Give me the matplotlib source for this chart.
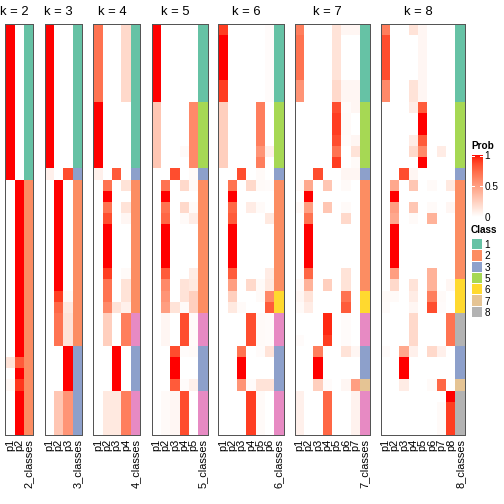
import numpy as np
import matplotlib
matplotlib.use("Agg")
import matplotlib.pyplot as plt
from matplotlib.colors import ListedColormap, BoundaryNorm, Normalize
from matplotlib.cm import ScalarMappable

plt.rcParams['font.family'] = ['Liberation Sans', 'DejaVu Sans']

# membership probabilities, run-length coded: (number of rows, [p1..pk])
prob_k2 = [(14, [1, 0]), (16, [0, 1]), (1, [0.15, 0.8]), (1, [0, 1]),
           (1, [0.04, 0.92]), (4, [0, 1])]
prob_k3 = [(13, [1, 0, 0]), (1, [0.08, 0, 0.85]), (10, [0, 1, 0]),
           (1, [0, 0.9, 0.03]), (1, [0, 0.75, 0.12]), (3, [0, 0.7, 0.15]),
           (4, [0, 0, 1]), (4, [0, 0.3, 0.55])]
prob_k4 = [(7, [0.7, 0, 0, 0.2]), (6, [1, 0, 0, 0]), (1, [0.08, 0, 0.8, 0]),
           (1, [0, 0.7, 0, 0.15]), (1, [0, 1, 0, 0]), (1, [0, 0.7, 0, 0.15]),
           (1, [0, 0.85, 0, 0.05]), (4, [0, 1, 0, 0]), (1, [0, 0.9, 0, 0.03]),
           (1, [0, 0.7, 0, 0.15]), (1, [0, 0.7, 0, 0.15]), (1, [0, 0.6, 0.15, 0.08]),
           (3, [0, 0.25, 0, 0.65]), (4, [0, 0, 1, 0]), (4, [0, 0.12, 0.12, 0.65])]
prob_k5 = [(7, [1, 0, 0, 0, 0]), (4, [0.3, 0, 0, 0, 0.6]), (1, [0.3, 0, 0, 0.03, 0.6]),
           (1, [0.3, 0, 0, 0, 0.6]), (1, [0, 0, 0.85, 0, 0.03]),
           (1, [0, 0.7, 0, 0.2, 0.03]), (1, [0, 1, 0, 0, 0]), (1, [0, 0.7, 0, 0.2, 0.03]),
           (1, [0, 0.75, 0, 0.03, 0.1]), (4, [0, 1, 0, 0, 0]), (1, [0, 0.8, 0, 0, 0.1]),
           (1, [0, 0.6, 0, 0.15, 0.12]), (1, [0, 0.55, 0, 0.15, 0.25]),
           (1, [0, 0.5, 0.15, 0.03, 0.25]), (3, [0, 0.05, 0, 0.85, 0.02]),
           (1, [0, 0, 0.85, 0.02, 0.03]), (2, [0, 0, 1, 0, 0]), (1, [0, 0, 0.8, 0.02, 0.08]),
           (4, [0, 0.03, 0.05, 0.85, 0])]
prob_k6 = [(1, [0.9, 0, 0, 0, 0, 0.02]), (4, [1, 0, 0, 0, 0, 0.02]),
           (2, [0.9, 0, 0, 0, 0, 0.02]), (4, [0.25, 0, 0, 0, 0.65, 0]),
           (1, [0.25, 0, 0, 0, 0.55, 0.08]), (1, [0.25, 0, 0, 0, 0.65, 0]),
           (1, [0, 0, 0.85, 0, 0.03, 0]), (1, [0, 0.7, 0, 0.2, 0.03, 0.02]),
           (1, [0, 1, 0, 0, 0, 0]), (1, [0, 0.75, 0, 0.1, 0.03, 0]),
           (1, [0, 0.8, 0, 0, 0, 0.12]), (4, [0, 1, 0, 0, 0, 0]),
           (1, [0, 0.8, 0, 0, 0, 0.1]), (1, [0, 0.5, 0, 0.2, 0.03, 0.12]),
           (1, [0, 0.25, 0, 0, 0.03, 0.6]), (1, [0, 0.12, 0.03, 0, 0, 0.8]),
           (3, [0, 0, 0, 0.85, 0.03, 0.02]), (1, [0, 0, 0.7, 0, 0.02, 0.15]),
           (2, [0, 0, 1, 0, 0, 0]), (1, [0, 0, 0.55, 0.02, 0.15, 0.15]),
           (4, [0, 0, 0, 0.9, 0.03, 0])]
prob_k7 = [(1, [0.65, 0, 0, 0, 0.15, 0.05, 0.05]), (4, [0.7, 0, 0, 0, 0.15, 0, 0]),
           (2, [0.55, 0, 0, 0, 0.2, 0.05, 0.05]), (1, [0, 0, 0, 0, 0.85, 0.02, 0.05]),
           (1, [0, 0, 0, 0, 0.9, 0.03, 0]), (1, [0, 0, 0, 0, 0.9, 0.03, 0]),
           (1, [0, 0, 0, 0, 0.85, 0.02, 0.05]), (1, [0, 0, 0, 0, 0.7, 0, 0.15]),
           (1, [0, 0, 0, 0, 0.9, 0, 0.03]), (1, [0, 0, 0.85, 0, 0, 0.05, 0.05]),
           (1, [0.03, 0.45, 0, 0.3, 0, 0.03, 0]), (1, [0, 1, 0, 0, 0, 0, 0]),
           (1, [0.03, 0.5, 0, 0.3, 0, 0.03, 0]), (1, [0, 0.7, 0, 0, 0, 0.2, 0]),
           (4, [0, 1, 0, 0, 0, 0, 0]), (1, [0, 0.75, 0, 0, 0, 0.15, 0]),
           (1, [0.03, 0.4, 0, 0.25, 0, 0.15, 0]), (1, [0.05, 0.15, 0, 0, 0, 0.7, 0]),
           (1, [0.03, 0.1, 0, 0, 0, 0.8, 0]), (2, [0, 0, 0, 0.95, 0, 0.02, 0]),
           (1, [0.02, 0, 0, 0.9, 0, 0.02, 0]), (1, [0, 0, 0.65, 0, 0, 0.15, 0.05]),
           (2, [0, 0, 1, 0, 0, 0, 0]), (1, [0, 0, 0.25, 0.02, 0, 0.05, 0.5]),
           (4, [0.08, 0, 0, 0.75, 0, 0, 0.07])]
prob_k8 = [(1, [0.65, 0, 0, 0.15, 0.05, 0, 0, 0]), (4, [0.85, 0, 0, 0, 0.05, 0, 0, 0]),
           (2, [0.6, 0, 0, 0.15, 0.05, 0, 0, 0]), (1, [0, 0, 0, 0.1, 0.8, 0, 0, 0]),
           (2, [0, 0, 0, 0, 1, 0, 0, 0]), (1, [0, 0, 0, 0.1, 0.8, 0, 0, 0]),
           (1, [0, 0, 0, 0.2, 0.6, 0, 0.1, 0]), (1, [0, 0, 0, 0, 1, 0, 0, 0]),
           (1, [0, 0, 0.85, 0.05, 0, 0, 0, 0]), (1, [0, 0.45, 0, 0.3, 0, 0.03, 0, 0.12]),
           (1, [0, 1, 0, 0, 0, 0, 0, 0]), (1, [0, 0.5, 0, 0.3, 0, 0.03, 0, 0.05]),
           (1, [0, 0.45, 0, 0.03, 0, 0.4, 0, 0]), (4, [0, 1, 0, 0, 0, 0, 0, 0]),
           (1, [0, 0.5, 0, 0, 0, 0.4, 0, 0]), (1, [0, 0.2, 0, 0.15, 0, 0.4, 0, 0.05]),
           (1, [0.03, 0.03, 0, 0.1, 0, 0.65, 0.03, 0]), (1, [0.02, 0, 0, 0.05, 0, 0.85, 0.02, 0]),
           (3, [0, 0, 0, 0.2, 0, 0, 0, 0.7]), (1, [0.02, 0, 0.45, 0.08, 0, 0.2, 0.08, 0]),
           (2, [0, 0, 1, 0, 0, 0, 0, 0]), (1, [0, 0, 0.1, 0, 0, 0.03, 0.75, 0]),
           (1, [0, 0, 0, 0, 0, 0, 0, 1]), (3, [0, 0, 0, 0, 0, 0, 0.03, 0.9])]

# class labels, run-length coded: (number of rows, class)
class_k2 = [(14, 1), (23, 2)]
class_k3 = [(13, 1), (1, 3), (15, 2), (8, 3)]
class_k4 = [(13, 1), (1, 3), (12, 2), (3, 4), (4, 3), (4, 4)]
class_k5 = [(7, 1), (6, 5), (1, 3), (12, 2), (3, 4), (4, 3), (4, 4)]
class_k6 = [(7, 1), (6, 5), (1, 3), (10, 2), (2, 6), (3, 4), (4, 3), (4, 4)]
class_k7 = [(7, 1), (6, 5), (1, 3), (10, 2), (2, 6), (3, 4), (3, 3), (1, 7), (4, 4)]
class_k8 = [(7, 1), (6, 5), (1, 3), (9, 2), (3, 6), (3, 8), (3, 3), (1, 7), (4, 8)]

legend_classes = [1, 2, 3, 5, 6, 7, 8]
class_colors = ['#66C2A5', '#FC8D62', '#8DA0CB', '#E78AC3',
                '#A6D854', '#FFD92F', '#E5C494', '#B3B3B3']

probs = {2: prob_k2, 3: prob_k3, 4: prob_k4, 5: prob_k5, 6: prob_k6, 7: prob_k7, 8: prob_k8}
classes = {2: class_k2, 3: class_k3, 4: class_k4, 5: class_k5, 6: class_k6, 7: class_k7, 8: class_k8}


def expand(runs):
    rows = []
    for n, v in runs:
        rows += [v] * n
    return np.array(rows, dtype=float)


def white_red_lab(n=256):
    # white -> red interpolated in CIE Lab, like colorRamp2
    t = np.linspace(0, 1, n)
    L = 100 + t * (53.24 - 100)
    a = t * 80.09
    b = t * 67.20
    fy = (L + 16) / 116
    fx = fy + a / 500
    fz = fy - b / 200

    def finv(f):
        return np.where(f ** 3 > 0.008856, f ** 3, (f - 16 / 116) / 7.787)
    X, Y, Z = 0.95047 * finv(fx), finv(fy), 1.08883 * finv(fz)
    r = 3.2406 * X - 1.5372 * Y - 0.4986 * Z
    g = -0.9689 * X + 1.8758 * Y + 0.0415 * Z
    bl = 0.0557 * X - 0.2040 * Y + 1.0570 * Z
    rgb = np.clip(np.stack([r, g, bl], -1), 0, 1)
    rgb = np.where(rgb <= 0.0031308, 12.92 * rgb, 1.055 * rgb ** (1 / 2.4) - 0.055)
    return ListedColormap(np.clip(rgb, 0, 1))


prob_cmap = white_red_lab()
class_cmap = ListedColormap(class_colors)
class_norm = BoundaryNorm(np.arange(0.5, 9.5, 1), 8)

W = H = 504.0
fig = plt.figure(figsize=(7, 7), dpi=72)

lefts = [5.3, 44.7, 93.3, 151.7, 218.3, 294.7, 380.7]
col_w = 9.35
top, bottom = 24, 435

for left, k in zip(lefts, range(2, 9)):
    P = expand(probs[k])
    C = expand(classes[k])
    nrow = len(P)
    ax = fig.add_axes([left / W, 1 - bottom / H, (k + 1) * col_w / W, (bottom - top) / H])
    ax.pcolormesh(np.arange(k + 1), np.arange(nrow + 1), P, cmap=prob_cmap,
                  vmin=0, vmax=1, snap=True)
    ax.pcolormesh([k, k + 1], np.arange(nrow + 1), C[:, None], cmap=class_cmap,
                  norm=class_norm, snap=True)
    ax.set_xlim(0, k + 1)
    ax.set_ylim(nrow, 0)
    ax.set_yticks([])
    ax.set_xticks(np.arange(k + 1) + 0.5)
    ax.set_xticklabels(['p%d' % i for i in range(1, k + 1)] + ['%d_classes' % k],
                       rotation=90, fontsize=11)
    ax.tick_params(length=0, pad=4)
    for s in ax.spines.values():
        s.set_color('#555555')
        s.set_linewidth(1)
    ax.text(k / 2, 1 + 9 / (bottom - top), 'k = %d' % k, transform=ax.get_xaxis_transform(),
            ha='center', va='baseline', fontsize=13)

# probability legend
fig.text(471 / W, 1 - 146 / H, 'Prob', fontweight='bold', fontsize=10, va='center')
cax = fig.add_axes([471.7 / W, 1 - 217 / H, 11 / W, 62 / H])
cb = fig.colorbar(ScalarMappable(norm=Normalize(0, 1), cmap=prob_cmap), cax=cax)
cb.outline.set_visible(False)
cb.set_ticks([0, 0.5, 1])
cb.set_ticklabels(['0', '0.5', '1'])
cax.tick_params(length=0, labelsize=10, pad=2)
for v in [0.5, 0.985]:
    cax.axhline(v, xmin=0, xmax=0.22, color='white', lw=1)
    cax.axhline(v, xmin=0.78, xmax=1, color='white', lw=1)

# class legend
fig.text(471 / W, 1 - 230 / H, 'Class', fontweight='bold', fontsize=10, va='center')
lax = fig.add_axes([471.7 / W, 1 - 317.5 / H, 10 / W, 79 / H])
pos = np.arange(len(legend_classes))
lax.barh(pos, 1, height=0.9, color=[class_colors[c - 1] for c in legend_classes])
lax.set_ylim(len(legend_classes) - 0.5, -0.5)
lax.set_xlim(0, 1)
lax.set_xticks([])
lax.yaxis.tick_right()
lax.set_yticks(pos)
lax.set_yticklabels([str(c) for c in legend_classes], fontsize=10)
lax.tick_params(length=0, pad=3)
for s in lax.spines.values():
    s.set_visible(False)

fig.savefig('out.png', dpi=72)
